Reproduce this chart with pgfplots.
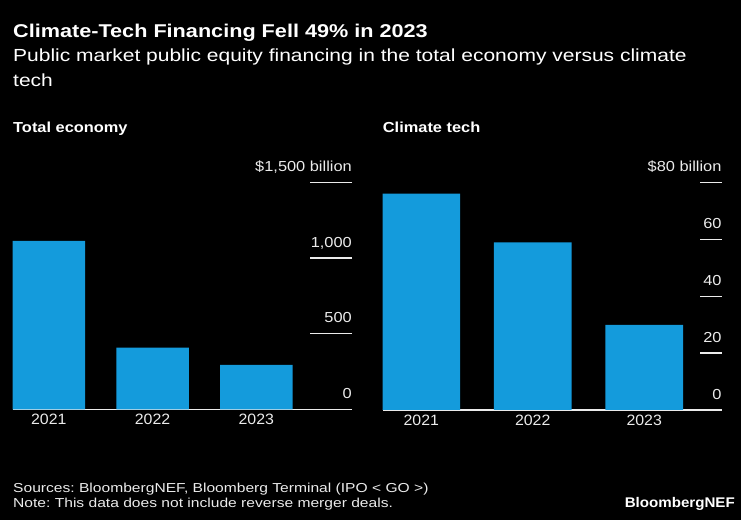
\documentclass[border=0pt]{standalone}
\usepackage{pgfplots}
\pgfplotsset{compat=1.18}
\usepackage{fontspec}
\setmainfont{Liberation Sans}
\newfontfamily\fT[FakeStretch=1.17]{Liberation Sans}
\newfontfamily\fS[FakeStretch=1.2]{Liberation Sans}
\newfontfamily\fK[FakeStretch=1.13]{Liberation Sans}
\newfontfamily\fY[FakeStretch=1.06]{Liberation Sans}
\newfontfamily\fB[FakeStretch=1.08]{Liberation Sans}
\definecolor{barblue}{RGB}{20,155,220}
\definecolor{txt}{RGB}{235,235,235}
\frenchspacing
\begin{document}
\begin{tikzpicture}
\fill[black] (0,0) rectangle (741bp,520bp);
\node[anchor=base west, inner sep=0, text=white, font=\fT\bfseries\fontsize{18.5bp}{22bp}\selectfont] at (13bp,482.7bp) {Climate-Tech Financing Fell 49\% in 2023};
\node[anchor=base west, inner sep=0, text=white, font=\fS\fontsize{17.5bp}{20bp}\selectfont] at (13bp,458bp) {Public market public equity financing in the total economy versus climate};
\node[anchor=base west, inner sep=0, text=white, font=\fS\fontsize{17.5bp}{20bp}\selectfont] at (13bp,433.5bp) {tech};
\node[anchor=base west, inner sep=0, text=white, font=\fK\bfseries\fontsize{14.5bp}{17bp}\selectfont] at (13bp,387.5bp) {Total economy};
\node[anchor=base west, inner sep=0, text=white, font=\fK\bfseries\fontsize{14.5bp}{17bp}\selectfont] at (382.7bp,387.5bp) {Climate tech};
\node[anchor=base west, inner sep=0, text=txt, font=\fS\fontsize{13bp}{16bp}\selectfont] at (13bp,28bp) {Sources: BloombergNEF, Bloomberg Terminal (IPO < GO >)};
\node[anchor=base west, inner sep=0, text=txt, font=\fS\fontsize{13bp}{16bp}\selectfont] at (13bp,12.3bp) {Note: This data does not include reverse merger deals.};
\node[anchor=base east, inner sep=0, text=white, font=\fB\bfseries\fontsize{14bp}{16bp}\selectfont] at (735bp,12.3bp) {BloombergNEF};

\pgfplotsset{
  bbstyle/.style={
    scale only axis, anchor=south west,
    axis x line*=bottom, axis y line*=right,
    x axis line style={draw=txt, line width=1.2bp, -},
    y axis line style={draw=none},
    ybar, bar shift=0pt,
    xtick={0,1,2}, xticklabels={2021,2022,2023},
    xtick style={draw=none},
    xticklabel style={anchor=north, inner sep=0pt, yshift=-5bp, text=txt, font=\fY\fontsize{15bp}{17bp}\selectfont},
    tick align=inside,
    ytick style={draw=txt, line width=1.2bp},
    yticklabel style={anchor=south east, inner sep=0pt, text depth=0pt, yshift=10.6bp, text=txt, font=\fK\fontsize{14.5bp}{17bp}\selectfont},
  }
}
\begin{axis}[bbstyle,
  at={(12.7bp,110.7bp)}, width=339.3bp, height=227bp,
  xmin=-0.348, xmax=2.922, ymin=0, ymax=1500,
  ytick={0,500,1000,1500}, yticklabels={0,500,{1,000},{\$1,500 billion}},
  major tick length=42bp, bar width=72.5bp]
\addplot[fill=barblue, draw=none] coordinates {(0,1113) (1,407) (2,293)};
\end{axis}
\begin{axis}[bbstyle,
  at={(382.7bp,110bp)}, width=339bp, height=227.7bp,
  xmin=-0.346, xmax=2.695, ymin=0, ymax=80,
  ytick={0,20,40,60,80}, yticklabels={0,20,40,60,{\$80 billion}},
  major tick length=21.7bp, bar width=77.8bp]
\addplot[fill=barblue, draw=none] coordinates {(0,76.0) (1,58.9) (2,29.9)};
\end{axis}
\pgfresetboundingbox
\useasboundingbox (0,0) rectangle (741bp,520bp);
\end{tikzpicture}
\end{document}
